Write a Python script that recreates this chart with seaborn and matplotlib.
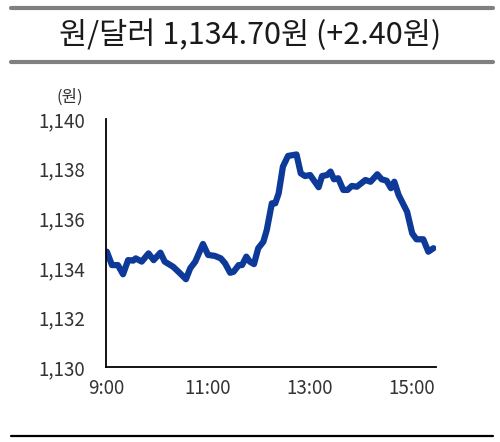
import matplotlib
matplotlib.use("Agg")
import matplotlib.pyplot as plt
from matplotlib.lines import Line2D
import seaborn as sns
import pandas as pd

times = ["09:01", "09:07", "09:14", "09:20", "09:26", "09:32", "09:35", "09:42", "09:50", "09:56",
         "10:04", "10:09", "10:19", "10:27", "10:34", "10:39", "10:45", "10:54", "11:00", "11:08",
         "11:15", "11:20", "11:26", "11:30", "11:36", "11:40", "11:45", "11:49", "11:54", "11:59",
         "12:05", "12:09", "12:15", "12:19", "12:23", "12:28", "12:34", "12:44", "12:49", "12:54",
         "13:00", "13:10", "13:14", "13:20", "13:24", "13:28", "13:33", "13:39", "13:44", "13:49",
         "13:55", "14:05", "14:11", "14:19", "14:24", "14:30", "14:35", "14:39", "14:44", "14:54",
         "15:00", "15:05", "15:13", "15:19", "15:25"]
values = [1134.65, 1134.11, 1134.11, 1133.74, 1134.31, 1134.29, 1134.38, 1134.25, 1134.58, 1134.31,
          1134.61, 1134.25, 1134.04, 1133.78, 1133.54, 1133.98, 1134.25, 1134.96, 1134.52, 1134.48,
          1134.38, 1134.18, 1133.80, 1133.84, 1134.11, 1134.11, 1134.45, 1134.25, 1134.15, 1134.79,
          1135.05, 1135.52, 1136.60, 1136.60, 1137.00, 1138.08, 1138.51, 1138.57, 1137.81, 1137.70,
          1137.74, 1137.25, 1137.70, 1137.74, 1137.88, 1137.57, 1137.61, 1137.14, 1137.14, 1137.30,
          1137.27, 1137.54, 1137.47, 1137.77, 1137.57, 1137.51, 1137.21, 1137.47, 1136.94, 1136.26,
          1135.39, 1135.15, 1135.15, 1134.65, 1134.79]
y_ticks = [1130, 1132, 1134, 1136, 1138, 1140]
x_tick_labels = ["9:00", "", "11:00", "", "13:00", "", "15:00"]
title = "원/달러 1,134.70원 (+2.40원)"
unit = "(원)"

def to_min(t):
    h, m = t.split(":")
    return (int(h) - 9) * 60 + int(m)

df = pd.DataFrame({"minute": [to_min(t) for t in times], "value": values})

sns.set_style("white")
plt.rcParams["font.family"] = ["Noto Sans CJK KR", "DejaVu Sans"]

fig = plt.figure(figsize=(5.0, 4.42), dpi=100)
ax = fig.add_axes([106/500, 1-367/442, 330/500, 248/442])

sns.lineplot(data=df, x="minute", y="value", ax=ax, color="#0d3a99", linewidth=4.5,
             solid_joinstyle="round", solid_capstyle="round")

ax.set_xlim(0, 388)
ax.set_ylim(1130, 1140)
ax.set_yticks(y_ticks)
ax.set_yticklabels([f"{v:,}" for v in y_ticks])
ax.set_xticks([i * 60 for i in range(7)])
ax.set_xticklabels(x_tick_labels)
ax.set_xlabel("")
ax.set_ylabel("")
for s in ["top", "right"]:
    ax.spines[s].set_visible(False)
for s in ["left", "bottom"]:
    ax.spines[s].set_color("black")
    ax.spines[s].set_linewidth(1.3)
ax.tick_params(axis="both", direction="in", length=3.5, width=1.0, color="black",
               labelsize=13.5, labelcolor="#333333")
ax.tick_params(axis="y", pad=15)
ax.tick_params(axis="x", pad=8)

fig.text(83/500, 1-97/442, unit, ha="right", va="center", fontsize=12, color="#333333")

fig.add_artist(Line2D([11/500, 493/500], [1-7.5/442]*2, lw=3, color="#808080"))
fig.add_artist(Line2D([11/500, 493/500], [1-62/442]*2, lw=3, color="#808080"))
fig.add_artist(Line2D([11/500, 493/500], [1-436/442]*2, lw=1.6, color="black"))
fig.text(0.5, 1-35/442, title, ha="center", va="center", fontsize=22, color="#1a1a1a")

fig.savefig("out.png", dpi=100)
